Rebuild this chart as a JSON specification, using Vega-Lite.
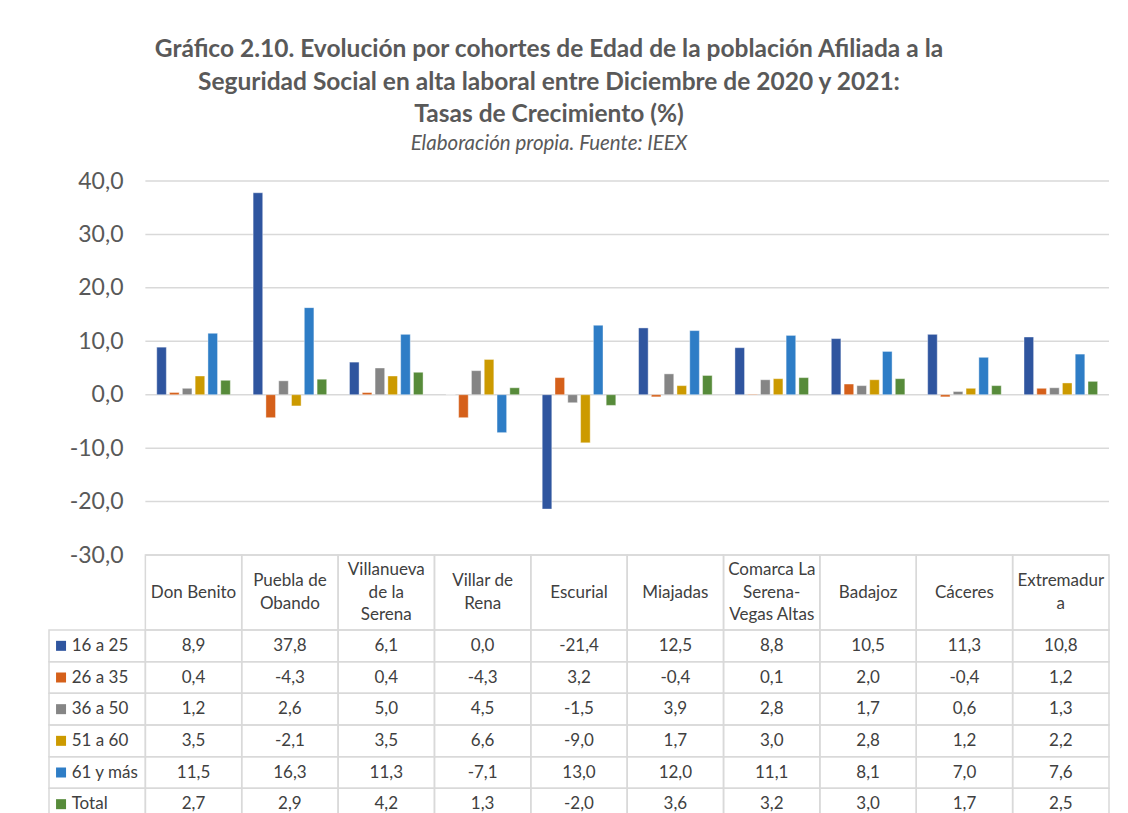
{
  "$schema": "https://vega.github.io/schema/vega-lite/v6.json",
  "background": "#ffffff",
  "padding": {"left": 48, "top": 37, "right": 0, "bottom": 0},
  "config": {
    "view": {"stroke": null},
    "font": "Lato",
    "locale": {"number": {"decimal": ",", "thousands": ".", "grouping": [3], "currency": ["", " €"], "minus": "-"}}
  },
  "datasets": {
    "grid": [{"g": 40}, {"g": 30}, {"g": 20}, {"g": 10}, {"g": 0}, {"g": -10}, {"g": -20}, {"g": -30}],
    "hdr": [
      {"cat": "Don Benito", "label": "Don Benito"},
      {"cat": "Puebla de Obando", "label": "Puebla de\nObando"},
      {"cat": "Villanueva de la Serena", "label": "Villanueva\nde la\nSerena"},
      {"cat": "Villar de Rena", "label": "Villar de\nRena"},
      {"cat": "Escurial", "label": "Escurial"},
      {"cat": "Miajadas", "label": "Miajadas"},
      {"cat": "Comarca La Serena-Vegas Altas", "label": "Comarca La\nSerena-\nVegas Altas"},
      {"cat": "Badajoz", "label": "Badajoz"},
      {"cat": "Cáceres", "label": "Cáceres"},
      {"cat": "Extremadura", "label": "Extremadur\na"}
    ],
    "series": [
      {"serie": "16 a 25", "col": "_lbl"},
      {"serie": "26 a 35", "col": "_lbl"},
      {"serie": "36 a 50", "col": "_lbl"},
      {"serie": "51 a 60", "col": "_lbl"},
      {"serie": "61 y más", "col": "_lbl"},
      {"serie": "Total", "col": "_lbl"}
    ],
    "vals": [
      {"cat": "Don Benito", "serie": "16 a 25", "v": 8.9},
      {"cat": "Puebla de Obando", "serie": "16 a 25", "v": 37.8},
      {"cat": "Villanueva de la Serena", "serie": "16 a 25", "v": 6.1},
      {"cat": "Villar de Rena", "serie": "16 a 25", "v": 0.0},
      {"cat": "Escurial", "serie": "16 a 25", "v": -21.4},
      {"cat": "Miajadas", "serie": "16 a 25", "v": 12.5},
      {"cat": "Comarca La Serena-Vegas Altas", "serie": "16 a 25", "v": 8.8},
      {"cat": "Badajoz", "serie": "16 a 25", "v": 10.5},
      {"cat": "Cáceres", "serie": "16 a 25", "v": 11.3},
      {"cat": "Extremadura", "serie": "16 a 25", "v": 10.8},
      {"cat": "Don Benito", "serie": "26 a 35", "v": 0.4},
      {"cat": "Puebla de Obando", "serie": "26 a 35", "v": -4.3},
      {"cat": "Villanueva de la Serena", "serie": "26 a 35", "v": 0.4},
      {"cat": "Villar de Rena", "serie": "26 a 35", "v": -4.3},
      {"cat": "Escurial", "serie": "26 a 35", "v": 3.2},
      {"cat": "Miajadas", "serie": "26 a 35", "v": -0.4},
      {"cat": "Comarca La Serena-Vegas Altas", "serie": "26 a 35", "v": 0.1},
      {"cat": "Badajoz", "serie": "26 a 35", "v": 2.0},
      {"cat": "Cáceres", "serie": "26 a 35", "v": -0.4},
      {"cat": "Extremadura", "serie": "26 a 35", "v": 1.2},
      {"cat": "Don Benito", "serie": "36 a 50", "v": 1.2},
      {"cat": "Puebla de Obando", "serie": "36 a 50", "v": 2.6},
      {"cat": "Villanueva de la Serena", "serie": "36 a 50", "v": 5.0},
      {"cat": "Villar de Rena", "serie": "36 a 50", "v": 4.5},
      {"cat": "Escurial", "serie": "36 a 50", "v": -1.5},
      {"cat": "Miajadas", "serie": "36 a 50", "v": 3.9},
      {"cat": "Comarca La Serena-Vegas Altas", "serie": "36 a 50", "v": 2.8},
      {"cat": "Badajoz", "serie": "36 a 50", "v": 1.7},
      {"cat": "Cáceres", "serie": "36 a 50", "v": 0.6},
      {"cat": "Extremadura", "serie": "36 a 50", "v": 1.3},
      {"cat": "Don Benito", "serie": "51 a 60", "v": 3.5},
      {"cat": "Puebla de Obando", "serie": "51 a 60", "v": -2.1},
      {"cat": "Villanueva de la Serena", "serie": "51 a 60", "v": 3.5},
      {"cat": "Villar de Rena", "serie": "51 a 60", "v": 6.6},
      {"cat": "Escurial", "serie": "51 a 60", "v": -9.0},
      {"cat": "Miajadas", "serie": "51 a 60", "v": 1.7},
      {"cat": "Comarca La Serena-Vegas Altas", "serie": "51 a 60", "v": 3.0},
      {"cat": "Badajoz", "serie": "51 a 60", "v": 2.8},
      {"cat": "Cáceres", "serie": "51 a 60", "v": 1.2},
      {"cat": "Extremadura", "serie": "51 a 60", "v": 2.2},
      {"cat": "Don Benito", "serie": "61 y más", "v": 11.5},
      {"cat": "Puebla de Obando", "serie": "61 y más", "v": 16.3},
      {"cat": "Villanueva de la Serena", "serie": "61 y más", "v": 11.3},
      {"cat": "Villar de Rena", "serie": "61 y más", "v": -7.1},
      {"cat": "Escurial", "serie": "61 y más", "v": 13.0},
      {"cat": "Miajadas", "serie": "61 y más", "v": 12.0},
      {"cat": "Comarca La Serena-Vegas Altas", "serie": "61 y más", "v": 11.1},
      {"cat": "Badajoz", "serie": "61 y más", "v": 8.1},
      {"cat": "Cáceres", "serie": "61 y más", "v": 7.0},
      {"cat": "Extremadura", "serie": "61 y más", "v": 7.6},
      {"cat": "Don Benito", "serie": "Total", "v": 2.7},
      {"cat": "Puebla de Obando", "serie": "Total", "v": 2.9},
      {"cat": "Villanueva de la Serena", "serie": "Total", "v": 4.2},
      {"cat": "Villar de Rena", "serie": "Total", "v": 1.3},
      {"cat": "Escurial", "serie": "Total", "v": -2.0},
      {"cat": "Miajadas", "serie": "Total", "v": 3.6},
      {"cat": "Comarca La Serena-Vegas Altas", "serie": "Total", "v": 3.2},
      {"cat": "Badajoz", "serie": "Total", "v": 3.0},
      {"cat": "Cáceres", "serie": "Total", "v": 1.7},
      {"cat": "Extremadura", "serie": "Total", "v": 2.5}
    ]
  },
  "title": {
    "text": ["Gráfico 2.10. Evolución por cohortes de Edad de la población Afiliada a la", "Seguridad Social en alta laboral  entre Diciembre de 2020 y 2021:", "Tasas de Crecimiento (%)"],
    "subtitle": "Elaboración propia. Fuente: IEEX",
    "anchor": "middle",
    "dx": -30,
    "font": "Lato",
    "fontSize": 24.5,
    "fontWeight": "bold",
    "color": "#595959",
    "lineHeight": 32.5,
    "subtitleFont": "Lato",
    "subtitleFontSize": 20.5,
    "subtitleFontStyle": "italic",
    "subtitleColor": "#595959",
    "subtitlePadding": 6,
    "offset": 15
  },
  "bounds": "flush",
  "spacing": 0,
  "vconcat": [
    {
      "width": 1060,
      "height": 374,
      "layer": [
        {
          "data": {"name": "grid"},
          "mark": {"type": "rule", "color": "#D9D9D9", "strokeWidth": 1.5},
          "encoding": {
            "x": {"datum": 1, "type": "quantitative", "scale": {"domain": [0, 11], "nice": false}, "axis": null},
            "x2": {"datum": 11},
            "y": {
              "field": "g", "type": "quantitative",
              "scale": {"domain": [-30, 40], "nice": false, "zero": false},
              "axis": {
                "title": null, "orient": "left", "offset": -96, "domain": false, "ticks": false, "grid": false,
                "labelPadding": 22, "values": [-30, -20, -10, 0, 10, 20, 30, 40], "format": ".1f",
                "labelFont": "Lato", "labelFontSize": 23, "labelColor": "#595959"
              }
            }
          }
        },
        {
          "data": {"name": "vals"},
          "mark": {"type": "bar", "stroke": "#ffffff", "strokeWidth": 0.8, "strokeOpacity": 0.5},
          "encoding": {
            "x": {
              "field": "cat", "type": "nominal",
              "scale": {"domain": ["_lbl", "Don Benito", "Puebla de Obando", "Villanueva de la Serena", "Villar de Rena", "Escurial", "Miajadas", "Comarca La Serena-Vegas Altas", "Badajoz", "Cáceres", "Extremadura"], "paddingInner": 0, "paddingOuter": 0},
              "axis": null
            },
            "xOffset": {"field": "serie", "type": "nominal", "scale": {"domain": ["16 a 25", "26 a 35", "36 a 50", "51 a 60", "61 y más", "Total"], "paddingInner": 0.25, "paddingOuter": 0.89}},
            "y": {"field": "v", "type": "quantitative", "stack": null},
            "color": {
              "field": "serie", "type": "nominal",
              "scale": {"domain": ["16 a 25", "26 a 35", "36 a 50", "51 a 60", "61 y más", "Total"], "range": ["#2F559F", "#D5601A", "#858585", "#CC9A00", "#2E7DC6", "#578B3A"]},
              "legend": null
            }
          }
        }
      ],
      "resolve": {"scale": {"x": "independent"}, "axis": {"x": "independent"}}
    },
    {
      "width": 1060,
      "height": 75,
      "data": {"name": "hdr"},
      "encoding": {
        "x": {
          "field": "cat", "type": "nominal",
          "scale": {"domain": ["_lbl", "Don Benito", "Puebla de Obando", "Villanueva de la Serena", "Villar de Rena", "Escurial", "Miajadas", "Comarca La Serena-Vegas Altas", "Badajoz", "Cáceres", "Extremadura"], "paddingInner": 0, "paddingOuter": 0},
          "axis": null
        }
      },
      "layer": [
        {"mark": {"type": "rect", "filled": false, "color": "#D9D9D9", "strokeWidth": 1.5}},
        {"mark": {"type": "text", "lineBreak": "\n", "font": "Lato", "fontSize": 17, "color": "#404040", "lineHeight": 22.5, "baseline": "middle",
                  "dy": {"expr": "-(length(split(datum.label, '\\n')) - 1) * 11.25"}},
         "encoding": {"text": {"field": "label"}}}
      ]
    },
    {
      "width": 1060,
      "height": 190,
      "layer": [
        {
          "data": {"name": "vals"},
          "mark": {"type": "rect", "filled": false, "color": "#D9D9D9", "strokeWidth": 1.5},
          "encoding": {
            "x": {
              "field": "cat", "type": "nominal",
              "scale": {"domain": ["_lbl", "Don Benito", "Puebla de Obando", "Villanueva de la Serena", "Villar de Rena", "Escurial", "Miajadas", "Comarca La Serena-Vegas Altas", "Badajoz", "Cáceres", "Extremadura"], "paddingInner": 0, "paddingOuter": 0},
              "axis": null
            },
            "y": {"field": "serie", "type": "nominal", "scale": {"domain": ["16 a 25", "26 a 35", "36 a 50", "51 a 60", "61 y más", "Total"], "paddingInner": 0, "paddingOuter": 0}, "axis": null}
          }
        },
        {
          "data": {"name": "series"},
          "mark": {"type": "rect", "filled": false, "color": "#D9D9D9", "strokeWidth": 1.5},
          "encoding": {
            "x": {"field": "col", "type": "nominal"},
            "y": {"field": "serie", "type": "nominal"}
          }
        },
        {
          "data": {"name": "vals"},
          "mark": {"type": "text", "font": "Lato", "fontSize": 17, "color": "#404040", "baseline": "middle"},
          "encoding": {
            "x": {"field": "cat", "type": "nominal"},
            "y": {"field": "serie", "type": "nominal"},
            "text": {"field": "v", "type": "quantitative", "format": ".1f"}
          }
        },
        {
          "data": {"name": "series"},
          "mark": {"type": "square", "filled": true, "size": 100, "opacity": 1},
          "encoding": {
            "x": {"field": "col", "type": "nominal", "bandPosition": 0.125},
            "y": {"field": "serie", "type": "nominal"},
            "color": {"field": "serie", "type": "nominal", "legend": null}
          }
        },
        {
          "data": {"name": "series"},
          "mark": {"type": "text", "font": "Lato", "fontSize": 17, "color": "#404040", "align": "left", "baseline": "middle"},
          "encoding": {
            "x": {"field": "col", "type": "nominal", "bandPosition": 0.235},
            "y": {"field": "serie", "type": "nominal"},
            "text": {"field": "serie"}
          }
        }
      ]
    }
  ]
}
